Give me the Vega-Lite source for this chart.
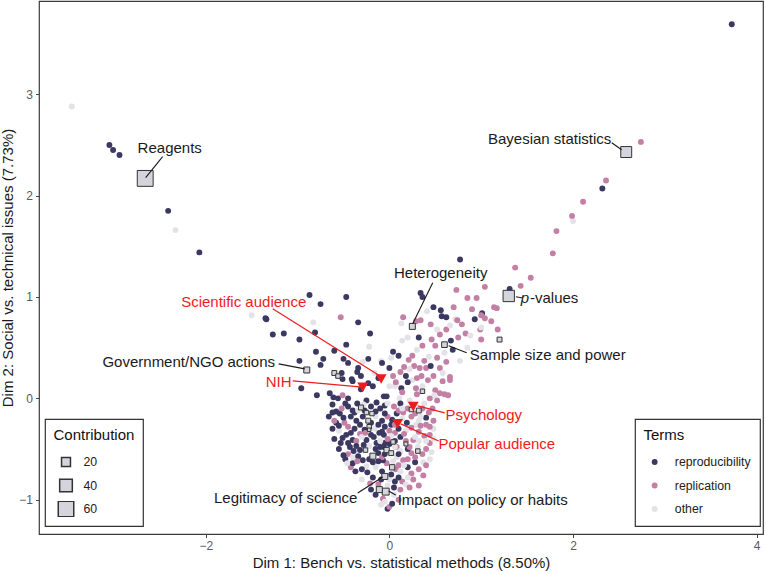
{
"$schema": "https://vega.github.io/schema/vega-lite/v6.json",
"width": 724, "height": 533,
"autosize": {"type": "none"},
"padding": {"left": 39, "top": 1, "right": 3, "bottom": 37},
"background": "white",
"config": {
 "font": "Liberation Sans",
 "view": {"stroke": "#3a3a3a", "strokeWidth": 1.2},
 "axis": {"grid": false, "domain": false, "tickColor": "#444", "tickSize": 3.5, "labelColor": "#5a5a5a", "labelFontSize": 12, "labelFont": "Liberation Sans", "titleFont": "Liberation Sans", "titleFontSize": 15, "titleFontWeight": "normal", "titleColor": "#1a1a1a", "labelPadding": 3, "format": "d"},
 "legend": {"titleFont": "Liberation Sans", "titleFontSize": 15, "titleFontWeight": "normal", "titleColor": "#111", "labelFont": "Liberation Sans", "labelFontSize": 12.3, "labelColor": "#222", "padding": 8.5, "strokeColor": "#333", "strokeWidth": 1.2, "fillColor": "white", "rowPadding": 7.5, "clipHeight": 16, "titlePadding": 11.5}
},
"datasets": {
 "pts": [
  {"d1":-3.46,"d2":2.88,"term":"other"},{"d1":-3.05,"d2":2.50,"term":"reproducibility"},{"d1":-3.01,"d2":2.45,"term":"reproducibility"},{"d1":-2.94,"d2":2.40,"term":"reproducibility"},{"d1":-2.41,"d2":1.85,"term":"reproducibility"},{"d1":-2.33,"d2":1.66,"term":"other"},{"d1":-2.07,"d2":1.44,"term":"reproducibility"},
  {"d1":3.73,"d2":3.69,"term":"reproducibility"},{"d1":2.74,"d2":2.53,"term":"replication"},{"d1":2.36,"d2":2.15,"term":"replication"},{"d1":2.32,"d2":2.07,"term":"reproducibility"},{"d1":2.11,"d2":1.94,"term":"replication"},{"d1":2.00,"d2":1.75,"term":"other"},{"d1":1.99,"d2":1.80,"term":"replication"},{"d1":1.82,"d2":1.65,"term":"replication"},{"d1":1.78,"d2":1.43,"term":"replication"},{"d1":0.77,"d2":1.37,"term":"reproducibility"},{"d1":1.37,"d2":1.29,"term":"replication"},{"d1":1.54,"d2":1.19,"term":"replication"},{"d1":1.04,"d2":1.10,"term":"replication"},{"d1":1.43,"d2":1.11,"term":"replication"},{"d1":1.31,"d2":1.08,"term":"reproducibility"},{"d1":0.73,"d2":1.07,"term":"replication"},
  {"d1":0.34,"d2":1.04,"term":"reproducibility"},{"d1":0.36,"d2":1.00,"term":"reproducibility"},{"d1":0.85,"d2":0.99,"term":"replication"},{"d1":0.95,"d2":0.99,"term":"replication"},{"d1":0.56,"d2":0.87,"term":"reproducibility"},{"d1":0.57,"d2":0.81,"term":"reproducibility"},{"d1":0.62,"d2":0.80,"term":"reproducibility"},{"d1":0.41,"d2":0.86,"term":"other"},{"d1":1.14,"d2":0.90,"term":"replication"},{"d1":1.17,"d2":0.89,"term":"replication"},{"d1":1.01,"d2":0.84,"term":"reproducibility"},{"d1":1.00,"d2":0.82,"term":"replication"},{"d1":1.04,"d2":0.79,"term":"replication"},{"d1":0.72,"d2":0.78,"term":"other"},{"d1":0.74,"d2":0.77,"term":"replication"},{"d1":0.93,"d2":0.78,"term":"reproducibility"},{"d1":0.34,"d2":0.77,"term":"replication"},{"d1":0.15,"d2":0.80,"term":"replication"},{"d1":0.13,"d2":0.74,"term":"other"},{"d1":0.29,"d2":0.76,"term":"replication"},{"d1":0.45,"d2":0.73,"term":"replication"},{"d1":0.79,"d2":0.73,"term":"replication"},{"d1":1.11,"d2":0.76,"term":"replication"},{"d1":1.18,"d2":0.68,"term":"replication"},{"d1":0.99,"d2":0.68,"term":"replication"},{"d1":1.00,"d2":0.70,"term":"other"},{"d1":0.55,"d2":0.63,"term":"replication"},{"d1":0.83,"d2":0.64,"term":"replication"},{"d1":0.88,"d2":0.62,"term":"other"},{"d1":1.00,"d2":0.58,"term":"replication"},{"d1":0.14,"d2":0.57,"term":"other"},{"d1":0.67,"d2":0.57,"term":"reproducibility"},{"d1":0.69,"d2":0.48,"term":"reproducibility"},{"d1":0.04,"d2":0.46,"term":"reproducibility"},{"d1":0.10,"d2":0.42,"term":"reproducibility"},{"d1":0.77,"d2":0.37,"term":"other"},{"d1":0.43,"d2":0.41,"term":"other"},{"d1":0.21,"d2":0.38,"term":"replication"},{"d1":0.38,"d2":0.37,"term":"replication"},{"d1":0.27,"d2":0.32,"term":"replication"},{"d1":0.33,"d2":0.30,"term":"replication"},{"d1":0.40,"d2":0.30,"term":"replication"},{"d1":0.45,"d2":0.32,"term":"reproducibility"},{"d1":0.22,"d2":0.29,"term":"other"},{"d1":0.55,"d2":0.30,"term":"replication"},{"d1":0.66,"d2":0.21,"term":"replication"},{"d1":0.66,"d2":0.18,"term":"replication"},{"d1":0.18,"d2":0.22,"term":"reproducibility"},{"d1":0.04,"d2":0.22,"term":"replication"},{"d1":0.25,"d2":0.18,"term":"other"},{"d1":0.42,"d2":0.18,"term":"replication"},{"d1":0.58,"d2":0.17,"term":"replication"},{"d1":0.06,"d2":0.12,"term":"other"},{"d1":0.29,"d2":0.10,"term":"replication"},{"d1":0.50,"d2":0.08,"term":"replication"},{"d1":0.55,"d2":0.05,"term":"replication"},{"d1":0.60,"d2":0.04,"term":"replication"},{"d1":0.64,"d2":0.03,"term":"replication"},{"d1":0.49,"d2":0.03,"term":"other"},{"d1":0.44,"d2":0.00,"term":"replication"},{"d1":0.11,"d2":0.00,"term":"other"},{"d1":-0.06,"d2":0.02,"term":"reproducibility"},{"d1":0.20,"d2":0.16,"term":"reproducibility"},{"d1":0.07,"d2":0.16,"term":"replication"},{"d1":0.60,"d2":0.45,"term":"other"},{"d1":0.50,"d2":0.52,"term":"replication"},{"d1":0.30,"d2":0.48,"term":"other"},{"d1":0.85,"d2":0.50,"term":"other"},{"d1":0.75,"d2":0.60,"term":"replication"},{"d1":0.52,"d2":0.68,"term":"other"},{"d1":0.62,"d2":0.36,"term":"replication"},{"d1":0.58,"d2":0.25,"term":"other"},{"d1":0.35,"d2":0.22,"term":"replication"},{"d1":0.16,"d2":0.31,"term":"replication"},
  {"d1":0.12,"d2":0.26,"term":"replication"},{"d1":0.30,"d2":0.20,"term":"replication"},{"d1":0.48,"d2":0.22,"term":"replication"},{"d1":0.52,"d2":0.40,"term":"replication"},{"d1":0.25,"d2":0.42,"term":"replication"},{"d1":0.36,"d2":0.52,"term":"replication"},{"d1":0.46,"d2":0.58,"term":"replication"},{"d1":0.62,"d2":0.68,"term":"replication"},{"d1":0.70,"d2":0.90,"term":"replication"},{"d1":0.90,"d2":0.88,"term":"replication"},{"d1":0.00,"d2":0.30,"term":"reproducibility"},{"d1":0.13,"d2":0.10,"term":"reproducibility"},{"d1":-0.12,"d2":0.20,"term":"reproducibility"},{"d1":0.32,"d2":0.60,"term":"reproducibility"},{"d1":0.48,"d2":0.90,"term":"reproducibility"},{"d1":0.02,"d2":0.40,"term":"other"},{"d1":0.20,"d2":0.60,"term":"other"},{"d1":0.66,"d2":0.72,"term":"other"},
  {"d1":-0.87,"d2":1.02,"term":"reproducibility"},{"d1":-0.47,"d2":1.00,"term":"reproducibility"},{"d1":-0.75,"d2":0.93,"term":"reproducibility"},{"d1":-1.50,"d2":0.82,"term":"other"},{"d1":-1.35,"d2":0.79,"term":"reproducibility"},{"d1":-1.34,"d2":0.78,"term":"reproducibility"},{"d1":-0.53,"d2":0.80,"term":"replication"},{"d1":-0.83,"d2":0.75,"term":"other"},{"d1":-0.34,"d2":0.75,"term":"reproducibility"},{"d1":-0.81,"d2":0.65,"term":"reproducibility"},{"d1":-1.27,"d2":0.63,"term":"reproducibility"},{"d1":-1.15,"d2":0.64,"term":"reproducibility"},{"d1":-0.21,"d2":0.64,"term":"reproducibility"},{"d1":-0.98,"d2":0.58,"term":"reproducibility"},{"d1":-0.22,"d2":0.51,"term":"other"},{"d1":-0.47,"d2":0.53,"term":"reproducibility"},{"d1":-0.80,"d2":0.46,"term":"reproducibility"},{"d1":-0.60,"d2":0.47,"term":"reproducibility"},{"d1":-0.23,"d2":0.39,"term":"reproducibility"},{"d1":-0.09,"d2":0.37,"term":"other"},{"d1":-0.98,"d2":0.37,"term":"reproducibility"},{"d1":-0.45,"d2":0.35,"term":"reproducibility"},{"d1":-0.34,"d2":0.30,"term":"reproducibility"},{"d1":-0.75,"d2":0.33,"term":"reproducibility"},{"d1":-0.72,"d2":0.39,"term":"reproducibility"},{"d1":-0.50,"d2":0.39,"term":"reproducibility"},{"d1":-0.29,"d2":0.36,"term":"other"},{"d1":-0.52,"d2":0.25,"term":"reproducibility"},{"d1":-0.31,"d2":0.22,"term":"reproducibility"},{"d1":-0.51,"d2":0.19,"term":"reproducibility"},{"d1":-0.40,"d2":0.17,"term":"reproducibility"},{"d1":-0.96,"d2":0.10,"term":"reproducibility"},{"d1":-0.18,"d2":0.12,"term":"reproducibility"},{"d1":0.00,"d2":0.12,"term":"other"},{"d1":-0.31,"d2":0.09,"term":"reproducibility"},{"d1":-0.79,"d2":0.03,"term":"reproducibility"},{"d1":-0.65,"d2":0.05,"term":"reproducibility"},{"d1":-0.61,"d2":0.01,"term":"reproducibility"},{"d1":-0.56,"d2":0.00,"term":"reproducibility"},{"d1":-0.51,"d2":0.03,"term":"replication"},{"d1":-0.45,"d2":0.00,"term":"reproducibility"},{"d1":-0.03,"d2":0.02,"term":"reproducibility"},{"d1":-0.25,"d2":-0.02,"term":"reproducibility"},{"d1":-0.14,"d2":-0.04,"term":"reproducibility"},{"d1":-0.41,"d2":0.19,"term":"reproducibility"},{"d1":-0.23,"d2":0.15,"term":"reproducibility"},{"d1":-0.08,"d2":0.35,"term":"reproducibility"},{"d1":-0.16,"d2":0.25,"term":"other"},{"d1":-0.35,"d2":0.26,"term":"reproducibility"},
  {"d1":-0.58,"d2":-0.13,"term":"reproducibility"},{"d1":-0.54,"d2":-0.15,"term":"reproducibility"},{"d1":-0.38,"d2":-0.14,"term":"reproducibility"},{"d1":-0.49,"d2":-0.24,"term":"replication"},{"d1":-0.58,"d2":-0.24,"term":"reproducibility"},{"d1":-0.29,"d2":-0.18,"term":"reproducibility"},{"d1":-0.32,"d2":-0.26,"term":"reproducibility"},{"d1":-0.32,"d2":-0.35,"term":"replication"},{"d1":-0.11,"d2":-0.34,"term":"reproducibility"},{"d1":-0.51,"d2":-0.39,"term":"reproducibility"},{"d1":-0.40,"d2":-0.41,"term":"reproducibility"},{"d1":-0.25,"d2":-0.41,"term":"reproducibility"},{"d1":-0.14,"d2":-0.44,"term":"reproducibility"},{"d1":-0.43,"d2":-0.48,"term":"reproducibility"},{"d1":-0.32,"d2":-0.51,"term":"reproducibility"},{"d1":-0.12,"d2":-0.54,"term":"reproducibility"},{"d1":-0.29,"d2":-0.61,"term":"reproducibility"},{"d1":-0.25,"d2":-0.67,"term":"other"},{"d1":-0.03,"d2":-0.64,"term":"replication"},{"d1":-0.37,"d2":-0.72,"term":"reproducibility"},{"d1":-0.21,"d2":-0.84,"term":"replication"},{"d1":-0.09,"d2":-1.05,"term":"other"},{"d1":-0.02,"d2":-1.09,"term":"reproducibility"},{"d1":-0.07,"d2":-0.99,"term":"replication"},
  {"d1":-0.05,"d2":-0.07,"term":"reproducibility"},{"d1":0.15,"d2":-0.14,"term":"replication"},{"d1":0.40,"d2":-0.19,"term":"reproducibility"},{"d1":0.03,"d2":-0.21,"term":"reproducibility"},{"d1":0.19,"d2":-0.24,"term":"reproducibility"},{"d1":0.29,"d2":-0.26,"term":"other"},{"d1":0.40,"d2":-0.26,"term":"replication"},{"d1":0.06,"d2":-0.34,"term":"replication"},{"d1":0.44,"d2":-0.36,"term":"replication"},{"d1":0.38,"d2":-0.37,"term":"replication"},{"d1":-0.06,"d2":-0.36,"term":"reproducibility"},{"d1":0.26,"d2":-0.41,"term":"replication"},{"d1":0.44,"d2":-0.44,"term":"replication"},{"d1":-0.05,"d2":-0.44,"term":"reproducibility"},{"d1":0.31,"d2":-0.48,"term":"other"},{"d1":0.24,"d2":-0.54,"term":"replication"},{"d1":0.15,"d2":-0.61,"term":"replication"},{"d1":0.37,"d2":-0.63,"term":"other"},{"d1":-0.07,"d2":-0.61,"term":"reproducibility"},{"d1":0.37,"d2":-0.76,"term":"replication"},{"d1":0.26,"d2":-0.80,"term":"replication"},{"d1":0.14,"d2":-0.82,"term":"replication"},{"d1":0.06,"d2":-0.82,"term":"reproducibility"},{"d1":0.00,"d2":-1.07,"term":"replication"},{"d1":0.43,"d2":-0.14,"term":"replication"},
  {"d1":-0.62,"d2":-0.06,"term":"reproducibility"},{"d1":-0.45,"d2":-0.08,"term":"reproducibility"},{"d1":-0.52,"d2":-0.10,"term":"replication"},{"d1":-0.35,"d2":-0.05,"term":"reproducibility"},{"d1":-0.28,"d2":-0.06,"term":"other"},{"d1":-0.20,"d2":-0.08,"term":"reproducibility"},{"d1":-0.10,"d2":-0.10,"term":"reproducibility"},{"d1":-0.02,"d2":-0.05,"term":"other"},{"d1":0.05,"d2":-0.08,"term":"replication"},{"d1":0.12,"d2":-0.05,"term":"reproducibility"},{"d1":0.20,"d2":-0.10,"term":"replication"},{"d1":0.38,"d2":-0.05,"term":"other"},{"d1":0.47,"d2":-0.10,"term":"replication"},
  {"d1":-0.66,"d2":-0.18,"term":"reproducibility"},{"d1":-0.60,"d2":-0.22,"term":"replication"},{"d1":-0.42,"d2":-0.18,"term":"reproducibility"},{"d1":-0.15,"d2":-0.18,"term":"other"},{"d1":-0.08,"d2":-0.22,"term":"reproducibility"},{"d1":-0.02,"d2":-0.18,"term":"replication"},{"d1":0.08,"d2":-0.15,"term":"reproducibility"},{"d1":0.14,"d2":-0.20,"term":"other"},{"d1":0.24,"d2":-0.18,"term":"replication"},{"d1":0.32,"d2":-0.22,"term":"other"},{"d1":0.48,"d2":-0.22,"term":"replication"},
  {"d1":-0.62,"d2":-0.30,"term":"reproducibility"},{"d1":-0.55,"d2":-0.32,"term":"other"},{"d1":-0.45,"d2":-0.28,"term":"replication"},{"d1":-0.38,"d2":-0.30,"term":"reproducibility"},{"d1":-0.16,"d2":-0.30,"term":"other"},{"d1":-0.05,"d2":-0.28,"term":"reproducibility"},{"d1":0.00,"d2":-0.32,"term":"replication"},{"d1":0.10,"d2":-0.30,"term":"reproducibility"},{"d1":0.18,"d2":-0.32,"term":"other"},{"d1":0.24,"d2":-0.29,"term":"replication"},{"d1":0.32,"d2":-0.33,"term":"replication"},{"d1":0.48,"d2":-0.30,"term":"other"},
  {"d1":-0.60,"d2":-0.40,"term":"reproducibility"},{"d1":-0.47,"d2":-0.36,"term":"reproducibility"},{"d1":-0.36,"d2":-0.42,"term":"replication"},{"d1":-0.30,"d2":-0.38,"term":"other"},{"d1":-0.20,"d2":-0.36,"term":"reproducibility"},{"d1":0.02,"d2":-0.37,"term":"other"},{"d1":0.12,"d2":-0.38,"term":"reproducibility"},{"d1":0.18,"d2":-0.42,"term":"replication"},{"d1":0.32,"d2":-0.42,"term":"other"},{"d1":0.48,"d2":-0.40,"term":"other"},
  {"d1":-0.55,"d2":-0.50,"term":"reproducibility"},{"d1":-0.45,"d2":-0.55,"term":"replication"},{"d1":-0.36,"d2":-0.47,"term":"reproducibility"},{"d1":-0.22,"d2":-0.47,"term":"other"},{"d1":-0.15,"d2":-0.50,"term":"reproducibility"},{"d1":-0.06,"d2":-0.48,"term":"reproducibility"},{"d1":0.08,"d2":-0.48,"term":"replication"},{"d1":0.12,"d2":-0.52,"term":"other"},{"d1":0.20,"d2":-0.50,"term":"reproducibility"},{"d1":0.40,"d2":-0.50,"term":"replication"},{"d1":0.46,"d2":-0.53,"term":"other"},
  {"d1":-0.48,"d2":-0.60,"term":"reproducibility"},{"d1":-0.40,"d2":-0.58,"term":"other"},{"d1":-0.22,"d2":-0.60,"term":"reproducibility"},{"d1":-0.08,"d2":-0.58,"term":"replication"},{"d1":0.08,"d2":-0.58,"term":"other"},{"d1":0.20,"d2":-0.60,"term":"replication"},{"d1":0.28,"d2":-0.63,"term":"reproducibility"},{"d1":0.44,"d2":-0.60,"term":"other"},
  {"d1":-0.42,"d2":-0.68,"term":"replication"},{"d1":-0.30,"d2":-0.70,"term":"reproducibility"},{"d1":-0.15,"d2":-0.68,"term":"other"},{"d1":-0.08,"d2":-0.72,"term":"reproducibility"},{"d1":0.07,"d2":-0.70,"term":"replication"},{"d1":0.12,"d2":-0.72,"term":"other"},{"d1":0.20,"d2":-0.68,"term":"reproducibility"},{"d1":0.32,"d2":-0.70,"term":"replication"},
  {"d1":-0.30,"d2":-0.80,"term":"other"},{"d1":-0.18,"d2":-0.78,"term":"reproducibility"},{"d1":-0.12,"d2":-0.85,"term":"replication"},{"d1":0.00,"d2":-0.80,"term":"other"},{"d1":0.10,"d2":-0.78,"term":"reproducibility"},{"d1":0.18,"d2":-0.85,"term":"other"},{"d1":0.22,"d2":-0.88,"term":"replication"},
  {"d1":-0.15,"d2":-0.95,"term":"reproducibility"},{"d1":0.05,"d2":-0.95,"term":"other"},{"d1":0.10,"d2":-1.00,"term":"replication"},{"d1":-0.05,"d2":-1.02,"term":"other"},{"d1":0.03,"d2":-1.04,"term":"reproducibility"},
  {"d1":-0.48,"d2":-0.05,"term":"reproducibility"},{"d1":-0.40,"d2":-0.12,"term":"reproducibility"},{"d1":-0.27,"d2":-0.12,"term":"reproducibility"},{"d1":-0.15,"d2":-0.13,"term":"reproducibility"},{"d1":-0.05,"d2":-0.15,"term":"reproducibility"},{"d1":-0.62,"d2":-0.14,"term":"reproducibility"},{"d1":-0.50,"d2":-0.19,"term":"reproducibility"},{"d1":-0.36,"d2":-0.22,"term":"reproducibility"},{"d1":-0.20,"d2":-0.24,"term":"reproducibility"},{"d1":-0.12,"d2":-0.26,"term":"reproducibility"},{"d1":0.02,"d2":-0.26,"term":"reproducibility"},{"d1":-0.55,"d2":-0.27,"term":"reproducibility"},{"d1":-0.42,"d2":-0.34,"term":"reproducibility"},{"d1":-0.27,"d2":-0.31,"term":"reproducibility"},{"d1":-0.17,"d2":-0.38,"term":"reproducibility"},{"d1":-0.08,"d2":-0.33,"term":"reproducibility"},{"d1":0.06,"d2":-0.42,"term":"reproducibility"},{"d1":-0.53,"d2":-0.44,"term":"reproducibility"},{"d1":-0.39,"d2":-0.52,"term":"reproducibility"},{"d1":-0.28,"d2":-0.46,"term":"reproducibility"},{"d1":-0.10,"d2":-0.48,"term":"reproducibility"},{"d1":0.00,"d2":-0.45,"term":"reproducibility"},{"d1":-0.50,"d2":-0.56,"term":"reproducibility"},{"d1":-0.34,"d2":-0.57,"term":"reproducibility"},{"d1":-0.18,"d2":-0.63,"term":"reproducibility"},{"d1":-0.05,"d2":-0.55,"term":"reproducibility"},{"d1":0.10,"d2":-0.55,"term":"reproducibility"},{"d1":-0.40,"d2":-0.64,"term":"reproducibility"},{"d1":-0.24,"d2":-0.73,"term":"reproducibility"},{"d1":-0.12,"d2":-0.62,"term":"reproducibility"},{"d1":0.02,"d2":-0.75,"term":"reproducibility"},{"d1":-0.20,"d2":-0.90,"term":"reproducibility"},{"d1":-0.09,"d2":-0.80,"term":"reproducibility"},{"d1":0.05,"d2":-0.88,"term":"reproducibility"},{"d1":-0.45,"d2":-0.44,"term":"reproducibility"},
  {"d1":0.10,"d2":-0.12,"term":"replication"},{"d1":0.28,"d2":-0.15,"term":"replication"},{"d1":0.36,"d2":-0.10,"term":"replication"},{"d1":0.06,"d2":-0.26,"term":"replication"},{"d1":0.16,"d2":-0.35,"term":"replication"},{"d1":0.34,"d2":-0.27,"term":"replication"},{"d1":0.44,"d2":-0.28,"term":"replication"},{"d1":0.22,"d2":-0.48,"term":"replication"},{"d1":0.28,"d2":-0.58,"term":"replication"},{"d1":0.36,"d2":-0.55,"term":"replication"},{"d1":0.10,"d2":-0.66,"term":"replication"},{"d1":0.24,"d2":-0.74,"term":"replication"},{"d1":0.32,"d2":-0.86,"term":"replication"},{"d1":-0.26,"d2":-0.34,"term":"replication"},{"d1":-0.02,"d2":-0.40,"term":"replication"},{"d1":0.12,"d2":-0.90,"term":"replication"},{"d1":-0.35,"d2":-0.62,"term":"replication"},{"d1":0.40,"d2":-0.66,"term":"replication"},{"d1":0.30,"d2":0.04,"term":"replication"},{"d1":0.52,"d2":-0.02,"term":"replication"},{"d1":0.14,"d2":0.06,"term":"replication"},
  {"d1":0.22,"d2":-0.02,"term":"other"},{"d1":0.34,"d2":-0.18,"term":"other"},{"d1":0.06,"d2":-0.48,"term":"other"},{"d1":-0.10,"d2":-0.42,"term":"other"},{"d1":0.16,"d2":-0.66,"term":"other"},{"d1":0.04,"d2":-0.62,"term":"other"},{"d1":-0.34,"d2":-0.12,"term":"other"},{"d1":0.28,"d2":-0.38,"term":"other"},{"d1":-0.02,"d2":-0.86,"term":"other"},{"d1":0.40,"d2":-0.42,"term":"other"},{"d1":0.14,"d2":-0.10,"term":"other"},{"d1":0.36,"d2":0.12,"term":"other"},{"d1":-0.46,"d2":-0.64,"term":"other"},{"d1":0.20,"d2":-0.78,"term":"other"}
 ],
 "sq": [
  {"d1":-2.66,"d2":2.17,"contrib":63},{"d1":2.58,"d2":2.43,"contrib":30},{"d1":1.30,"d2":1.01,"contrib":32},{"d1":0.25,"d2":0.71,"contrib":9},{"d1":0.60,"d2":0.53,"contrib":8},{"d1":-0.90,"d2":0.28,"contrib":9},{"d1":-0.05,"d2":-0.77,"contrib":9},{"d1":-0.04,"d2":-0.92,"contrib":12},
  {"d1":1.20,"d2":0.58,"contrib":6},{"d1":-0.60,"d2":0.25,"contrib":6},{"d1":-0.56,"d2":0.22,"contrib":5},{"d1":-0.31,"d2":-0.09,"contrib":6},{"d1":-0.25,"d2":-0.14,"contrib":5},{"d1":-0.19,"d2":-0.15,"contrib":5},{"d1":-0.23,"d2":-0.22,"contrib":6},{"d1":-0.22,"d2":-0.28,"contrib":5},{"d1":-0.22,"d2":-0.31,"contrib":3},{"d1":-0.26,"d2":-0.51,"contrib":5},{"d1":-0.18,"d2":-0.57,"contrib":9},{"d1":-0.03,"d2":-0.51,"contrib":7},{"d1":0.02,"d2":-0.54,"contrib":6},{"d1":0.04,"d2":-0.43,"contrib":5},{"d1":0.03,"d2":-0.68,"contrib":7},{"d1":-0.11,"d2":-0.90,"contrib":9},{"d1":0.36,"d2":0.07,"contrib":5},{"d1":0.24,"d2":-0.11,"contrib":5},{"d1":0.32,"d2":-0.12,"contrib":6},{"d1":0.18,"d2":-0.45,"contrib":4},{"d1":0.31,"d2":-0.52,"contrib":5}
 ],
 "tri": [
  {"d1":-0.09,"d2":0.19},{"d1":-0.29,"d2":0.11},{"d1":0.26,"d2":-0.08},{"d1":0.09,"d2":-0.25}
 ],
 "lab": [
  {"label":"Reagents","kind":"term","lx":-2.393,"ly":2.473,"sx":-2.47,"sy":2.384,"ex":-2.655,"ey":2.177},
  {"label":"Bayesian statistics","kind":"term","lx":1.746,"ly":2.562,"sx":2.422,"sy":2.522,"ex":2.53,"ey":2.453},
  {"label":"Heterogeneity","kind":"term","lx":0.559,"ly":1.239,"sx":0.472,"sy":1.14,"ex":0.254,"ey":0.735},
  {"label":"Sample size and power","kind":"term","lx":1.725,"ly":0.429,"sx":0.842,"sy":0.449,"ex":0.646,"ey":0.518},
  {"label":"Government/NGO actions","kind":"term","lx":-2.186,"ly":0.36,"sx":-1.206,"sy":0.34,"ex":-0.922,"ey":0.291},
  {"label":"Legitimacy of science","kind":"term","lx":-1.13,"ly":-0.982,"sx":-0.345,"sy":-0.933,"ex":-0.073,"ey":-0.775},
  {"label":"Impact on policy or habits","kind":"term","lx":1.017,"ly":-1.002,"sx":0.069,"sy":-0.953,"ex":-0.008,"ey":-0.913},
  {"label":"Scientific audience","kind":"group","lx":-1.587,"ly":0.953,"sx":-1.271,"sy":0.884,"ex":-0.106,"ey":0.222},
  {"label":"NIH","kind":"group","lx":-1.206,"ly":0.163,"sx":-1.053,"sy":0.173,"ex":-0.323,"ey":0.114},
  {"label":"Psychology","kind":"group","lx":1.028,"ly":-0.163,"sx":0.603,"sy":-0.143,"ex":0.308,"ey":-0.074},
  {"label":"Popular audience","kind":"group","lx":1.17,"ly":-0.449,"sx":0.537,"sy":-0.42,"ex":0.123,"ey":-0.252}
 ],
 "pv": [
  {"label":"p","lx":1.522,"ly":0.992,"sx":1.453,"sy":0.99,"ex":1.377,"ey":1.002}
 ],
 "pv2": [
  {"label":"-values","lx":1.532,"ly":0.992}
 ]
},
"layer": [
 {"mark": {"type": "rule", "strokeDash": [5, 4], "color": "#9c9c9c", "strokeWidth": 1},
  "encoding": {"x": {"datum": 0, "type": "quantitative", "scale": {"domain": [-3.817, 4.07], "nice": false, "zero": false}}}},
 {"mark": {"type": "rule", "strokeDash": [5, 4], "color": "#9c9c9c", "strokeWidth": 1},
  "encoding": {"y": {"datum": 0, "type": "quantitative", "scale": {"domain": [-1.338, 3.92], "nice": false, "zero": false}}}},
 {"data": {"name": "pts"},
  "mark": {"type": "circle", "size": 35, "opacity": 1},
  "encoding": {
   "x": {"field": "d1", "type": "quantitative", "title": "Dim 1: Bench vs. statistical methods (8.50%)", "scale": {"domain": [-3.817, 4.07], "nice": false, "zero": false}, "axis": {"values": [-2, 0, 2, 4], "format": "d"}},
   "y": {"field": "d2", "type": "quantitative", "title": "Dim 2: Social vs. technical issues (7.73%)", "scale": {"domain": [-1.338, 3.92], "nice": false, "zero": false}, "axis": {"values": [-1, 0, 1, 2, 3], "format": "d", "titlePadding": 3}},
   "color": {"field": "term", "type": "nominal", "title": "Terms",
     "scale": {"domain": ["reproducibility", "replication", "other"], "range": ["#3b3862", "#c47fa5", "#e2e2e8"]},
     "legend": {"orient": "none", "legendX": 596, "legendY": 418, "symbolType": "circle", "symbolSize": 35, "symbolOffset": 5, "labelOffset": 14}}
  }},
 {"data": {"name": "sq"},
  "mark": {"type": "square", "filled": true, "fill": "#d4d4dc", "stroke": "#333333", "strokeWidth": 1, "opacity": 1},
  "encoding": {
   "x": {"field": "d1", "type": "quantitative", "title": "Dim 1: Bench vs. statistical methods (8.50%)", "scale": {"domain": [-3.817, 4.07], "nice": false, "zero": false}},
   "y": {"field": "d2", "type": "quantitative", "title": "Dim 2: Social vs. technical issues (7.73%)", "scale": {"domain": [-1.338, 3.92], "nice": false, "zero": false}},
   "size": {"field": "contrib", "type": "quantitative", "title": "Contribution",
     "scale": {"type": "linear", "domain": [0, 60], "range": [0, 240]},
     "legend": {"values": [20, 40, 60], "orient": "none", "legendX": 6, "legendY": 418, "symbolType": "square", "symbolOffset": 4, "labelOffset": 9}}
  }},
 {"data": {"name": "tri"},
  "mark": {"type": "point", "shape": "triangle-down", "filled": true, "color": "#ee1c1c", "size": 120, "opacity": 1},
  "encoding": {
   "x": {"field": "d1", "type": "quantitative", "title": "Dim 1: Bench vs. statistical methods (8.50%)", "scale": {"domain": [-3.817, 4.07], "nice": false, "zero": false}},
   "y": {"field": "d2", "type": "quantitative", "title": "Dim 2: Social vs. technical issues (7.73%)", "scale": {"domain": [-1.338, 3.92], "nice": false, "zero": false}}
  }},
 {"data": {"name": "lab"},
  "transform": [{"filter": "datum.kind === 'term'"}],
  "mark": {"type": "rule", "color": "#1a1a1a", "strokeWidth": 1.1},
  "encoding": {
   "x": {"field": "sx", "type": "quantitative", "title": "Dim 1: Bench vs. statistical methods (8.50%)", "scale": {"domain": [-3.817, 4.07], "nice": false, "zero": false}},
   "y": {"field": "sy", "type": "quantitative", "title": "Dim 2: Social vs. technical issues (7.73%)", "scale": {"domain": [-1.338, 3.92], "nice": false, "zero": false}},
   "x2": {"field": "ex"}, "y2": {"field": "ey"}
  }},
 {"data": {"name": "pv"},
  "mark": {"type": "rule", "color": "#1a1a1a", "strokeWidth": 1.1},
  "encoding": {
   "x": {"field": "sx", "type": "quantitative", "title": "Dim 1: Bench vs. statistical methods (8.50%)", "scale": {"domain": [-3.817, 4.07], "nice": false, "zero": false}},
   "y": {"field": "sy", "type": "quantitative", "title": "Dim 2: Social vs. technical issues (7.73%)", "scale": {"domain": [-1.338, 3.92], "nice": false, "zero": false}},
   "x2": {"field": "ex"}, "y2": {"field": "ey"}
  }},
 {"data": {"name": "lab"},
  "transform": [{"filter": "datum.kind === 'group'"}],
  "mark": {"type": "rule", "color": "#ee1c1c", "strokeWidth": 1.2},
  "encoding": {
   "x": {"field": "sx", "type": "quantitative", "title": "Dim 1: Bench vs. statistical methods (8.50%)", "scale": {"domain": [-3.817, 4.07], "nice": false, "zero": false}},
   "y": {"field": "sy", "type": "quantitative", "title": "Dim 2: Social vs. technical issues (7.73%)", "scale": {"domain": [-1.338, 3.92], "nice": false, "zero": false}},
   "x2": {"field": "ex"}, "y2": {"field": "ey"}
  }},
 {"data": {"name": "lab"},
  "transform": [{"filter": "datum.kind === 'term'"}],
  "mark": {"type": "text", "font": "Liberation Sans", "fontSize": 15, "color": "#1a1a1a", "align": "center", "baseline": "middle"},
  "encoding": {
   "x": {"field": "lx", "type": "quantitative", "title": "Dim 1: Bench vs. statistical methods (8.50%)", "scale": {"domain": [-3.817, 4.07], "nice": false, "zero": false}},
   "y": {"field": "ly", "type": "quantitative", "title": "Dim 2: Social vs. technical issues (7.73%)", "scale": {"domain": [-1.338, 3.92], "nice": false, "zero": false}},
   "text": {"field": "label"}
  }},
 {"data": {"name": "lab"},
  "transform": [{"filter": "datum.kind === 'group'"}],
  "mark": {"type": "text", "font": "Liberation Sans", "fontSize": 15, "color": "#ee1c1c", "align": "center", "baseline": "middle"},
  "encoding": {
   "x": {"field": "lx", "type": "quantitative", "title": "Dim 1: Bench vs. statistical methods (8.50%)", "scale": {"domain": [-3.817, 4.07], "nice": false, "zero": false}},
   "y": {"field": "ly", "type": "quantitative", "title": "Dim 2: Social vs. technical issues (7.73%)", "scale": {"domain": [-1.338, 3.92], "nice": false, "zero": false}},
   "text": {"field": "label"}
  }},
 {"data": {"name": "pv"},
  "mark": {"type": "text", "font": "Liberation Sans", "fontSize": 15, "fontStyle": "italic", "color": "#1a1a1a", "align": "right", "baseline": "middle"},
  "encoding": {
   "x": {"field": "lx", "type": "quantitative", "title": "Dim 1: Bench vs. statistical methods (8.50%)", "scale": {"domain": [-3.817, 4.07], "nice": false, "zero": false}},
   "y": {"field": "ly", "type": "quantitative", "title": "Dim 2: Social vs. technical issues (7.73%)", "scale": {"domain": [-1.338, 3.92], "nice": false, "zero": false}},
   "text": {"field": "label"}
  }},
 {"data": {"name": "pv2"},
  "mark": {"type": "text", "font": "Liberation Sans", "fontSize": 15, "color": "#1a1a1a", "align": "left", "baseline": "middle"},
  "encoding": {
   "x": {"field": "lx", "type": "quantitative", "title": "Dim 1: Bench vs. statistical methods (8.50%)", "scale": {"domain": [-3.817, 4.07], "nice": false, "zero": false}},
   "y": {"field": "ly", "type": "quantitative", "title": "Dim 2: Social vs. technical issues (7.73%)", "scale": {"domain": [-1.338, 3.92], "nice": false, "zero": false}},
   "text": {"field": "label"}
  }}
]
}
